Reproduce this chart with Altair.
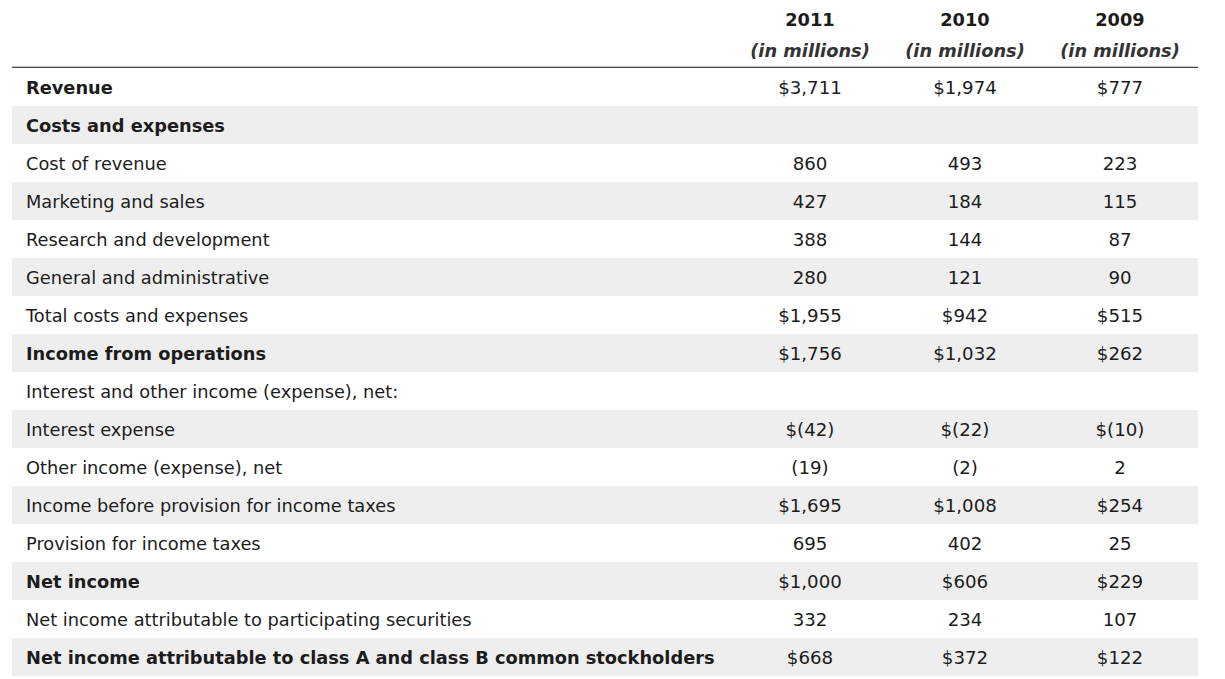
import altair as alt
import pandas as pd

years = ["2011", "2010", "2009"]
unit_label = "(in millions)"

labels = [
    "Revenue",
    "Costs and expenses",
    "Cost of revenue",
    "Marketing and sales",
    "Research and development",
    "General and administrative",
    "Total costs and expenses",
    "Income from operations",
    "Interest and other income (expense), net:",
    "Interest expense",
    "Other income (expense), net",
    "Income before provision for income taxes",
    "Provision for income taxes",
    "Net income",
    "Net income attributable to participating securities",
    "Net income attributable to class A and class B common stockholders",
]
bold_rows = [1, 1, 0, 0, 0, 0, 0, 1, 0, 0, 0, 0, 0, 1, 0, 1]

v2011 = ["$3,711", "", "860", "427", "388", "280", "$1,955", "$1,756", "",
         "$(42)", "(19)", "$1,695", "695", "$1,000", "332", "$668"]
v2010 = ["$1,974", "", "493", "184", "144", "121", "$942", "$1,032", "",
         "$(22)", "(2)", "$1,008", "402", "$606", "234", "$372"]
v2009 = ["$777", "", "223", "115", "87", "90", "$515", "$262", "",
         "$(10)", "2", "$254", "25", "$229", "107", "$122"]

FONT = "DejaVu Sans"
TXT = "#1c1c1c"
FS = 17.8
FSN = 18.2
DY = 1.5

rows_df = pd.DataFrame({
    "row": list(range(len(labels))),
    "label": labels,
    "bold": bold_rows,
})
rows_df["shade"] = rows_df["row"] % 2 == 1

vals = []
for c, (yr, col) in enumerate(zip(years, [v2011, v2010, v2009])):
    for i, t in enumerate(col):
        if t:
            vals.append({"row": i, "col": c, "year": yr, "text": t})
vals_df = pd.DataFrame(vals)

head_df = pd.DataFrame(
    [{"col": c, "row": -1.79, "text": y, "kind": "year"} for c, y in enumerate(years)]
    + [{"col": c, "row": -0.97, "text": unit_label, "kind": "unit"} for c, y in enumerate(years)]
)

yscale = alt.Scale(domain=[-2.08, 15.5], reverse=True, nice=False, zero=False)
xscale = alt.Scale(domain=[0, 2], range=[802, 1112], nice=False, zero=False)

base_rows = alt.Chart(rows_df)

shade = base_rows.transform_filter("datum.shade").transform_calculate(
    y0="datum.row - 0.5", y1="datum.row + 0.5"
).mark_rect(color="#eeeeee").encode(
    x=alt.value(4), x2=alt.value(1190),
    y=alt.Y("y0:Q", scale=yscale, axis=None),
    y2="y1:Q",
)

rule = alt.Chart(pd.DataFrame({"row": [-0.52]})).mark_rule(
    color="#111111", strokeWidth=1
).encode(
    x=alt.value(4), x2=alt.value(1190),
    y=alt.Y("row:Q", scale=yscale, axis=None),
)

label_norm = base_rows.transform_filter("datum.bold == 0").mark_text(
    align="left", baseline="middle", font=FONT, fontSize=FS, color=TXT, dy=DY
).encode(
    x=alt.value(18),
    y=alt.Y("row:Q", scale=yscale, axis=None),
    text="label:N",
)
label_bold = base_rows.transform_filter("datum.bold == 1").mark_text(
    align="left", baseline="middle", font=FONT, fontSize=FS, fontWeight="bold",
    color=TXT, dy=DY
).encode(
    x=alt.value(18),
    y=alt.Y("row:Q", scale=yscale, axis=None),
    text="label:N",
)

values = alt.Chart(vals_df).mark_text(
    align="center", baseline="middle", font=FONT, fontSize=FSN, color=TXT, dy=DY
).encode(
    x=alt.X("col:Q", scale=xscale, axis=None),
    y=alt.Y("row:Q", scale=yscale, axis=None),
    text="text:N",
)

head_year = alt.Chart(head_df).transform_filter("datum.kind == 'year'").mark_text(
    align="center", baseline="middle", font=FONT, fontSize=FS, fontWeight="bold",
    color=TXT, dy=DY
).encode(
    x=alt.X("col:Q", scale=xscale, axis=None),
    y=alt.Y("row:Q", scale=yscale, axis=None),
    text="text:N",
)
head_unit = alt.Chart(head_df).transform_filter("datum.kind == 'unit'").mark_text(
    align="center", baseline="middle", font=FONT, fontSize=FS, fontStyle="italic",
    fontWeight="bold", color="#333333", dy=DY
).encode(
    x=alt.X("col:Q", scale=xscale, axis=None),
    y=alt.Y("row:Q", scale=yscale, axis=None),
    text="text:N",
)

chart = alt.layer(
    shade, rule, label_norm, label_bold, values, head_year, head_unit
).properties(
    width=1209, height=668, padding=0,
    autosize=alt.AutoSizeParams(type="none"),
).configure(background="white").configure_view(stroke="transparent")

chart.save("out.html", embed_options={"renderer": "svg", "actions": False})
